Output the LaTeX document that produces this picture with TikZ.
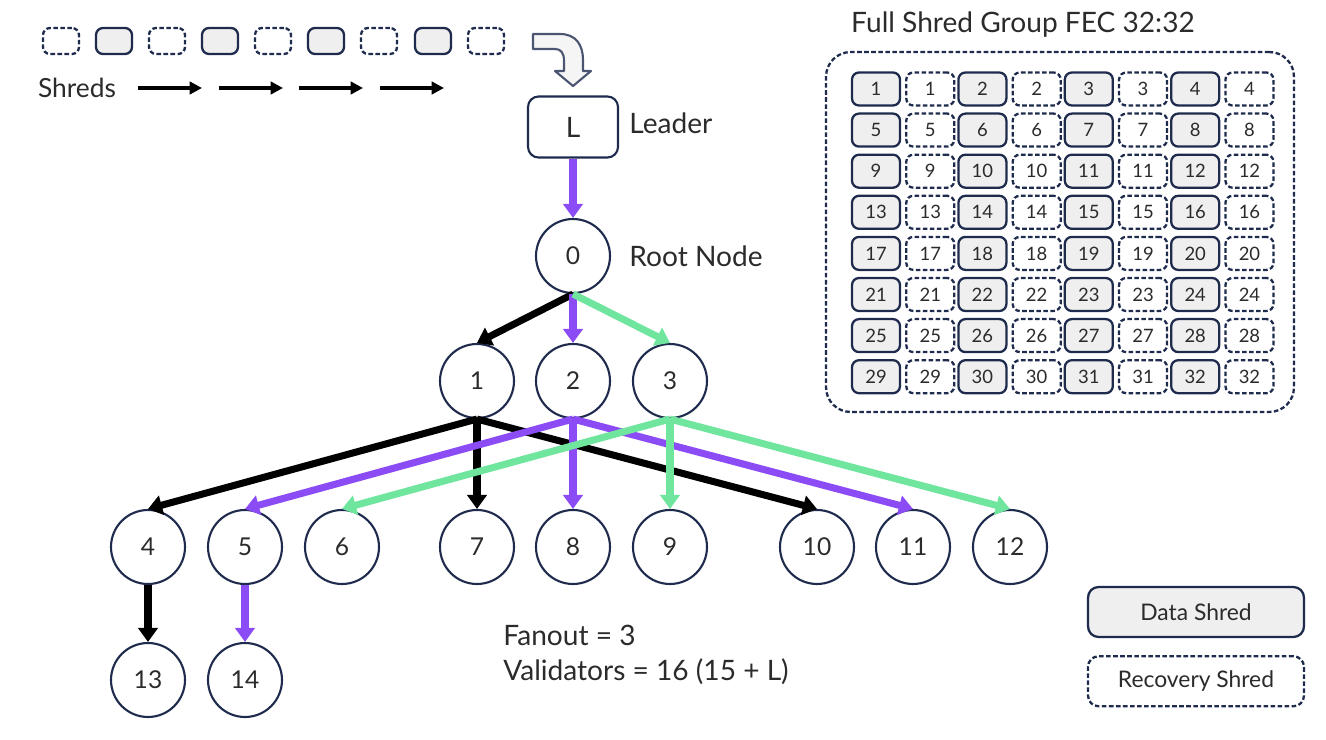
\documentclass[tikz,border=0pt]{standalone}
\usepackage{fontspec}
\setmainfont{Lato}
\usepackage{xcolor}
\definecolor{navy}{HTML}{1E2B4D}
\definecolor{fanpurple}{HTML}{8B4CF6}
\definecolor{fangreen}{HTML}{6FE59E}
\definecolor{shredfill}{HTML}{EFEFEF}
\definecolor{ink}{HTML}{2B2B2B}
\usepackage{tikz}
\usetikzlibrary{arrows.meta, positioning}

\begin{document}
\begin{tikzpicture}[x=0.02cm, y=-0.02cm, >=Stealth,
  vnode/.style={circle, draw=navy, line width=1.2pt, minimum size=1.48cm,
    inner sep=0pt, font=\fontsize{14}{16}\selectfont, text=ink},
  datashred/.style={draw=navy, fill=shredfill, rounded corners=4pt, line width=1.3pt,
    inner sep=0pt, text=ink},
  recshred/.style={draw=navy, dash pattern=on 2.6pt off 1.4pt, rounded corners=4pt,
    line width=1.3pt, inner sep=0pt, text=ink},
  cell/.style={minimum width=0.96cm, minimum height=0.66cm, font=\fontsize{10.5}{12}\selectfont},
  topshred/.style={minimum width=0.72cm, minimum height=0.52cm},
  lbl/.style={font=\fontsize{16}{20}\selectfont, text=ink, inner sep=0pt},
  fanedge/.style={-{Triangle[length=8pt,width=11pt]}, line width=4pt}]

  \useasboundingbox (0,0) rectangle (1326,740);

  % incoming shreds
  \foreach \i/\x in {1/61,3/167,5/273,7/379,9/486}
    \node[recshred, topshred] (s\i) at (\x,41) {};
  \foreach \i/\x in {2/114,4/220,6/326,8/433}
    \node[datashred, topshred] (s\i) at (\x,41) {};
  \node[lbl, font=\fontsize{15}{18}\selectfont] (shreds) at (77,88) {Shreds};
  \foreach \x in {138,219,299,380}
    \draw[-{Triangle[length=7pt,width=7pt]}, line width=2.2pt] (\x,88) -- ++(64,0);

  % bent hollow arrow into the leader
  \draw[navy!80, fill=shredfill!60, line width=1.2pt, line join=round]
    (533,34) -- (560,34) .. controls (576,34) and (583,45) .. (583,60) -- (583,71)
    -- (591,71) -- (573,86) -- (555,71) -- (564,71) -- (564,61)
    .. controls (564,53) and (561,49) .. (555,49) -- (533,49) -- cycle;

  \node[draw=navy, rounded corners=6pt, line width=1.2pt, minimum width=1.8cm,
        minimum height=1.22cm, font=\fontsize{16}{20}\selectfont, text=ink] (L) at (573,127) {L};
  \node[lbl, right=0.2cm of L, yshift=2pt] (leader) {Leader};

  % turbine tree
  \node[vnode] (n0) at (573,256) {0};
  \node[lbl, right=0.36cm of n0] (root) {Root Node};
  \foreach \i/\x in {1/477,2/573,3/670}
    \node[vnode] (n\i) at (\x,381) {\i};
  \foreach \i/\x in {4/148,5/245,6/342,7/477,8/573,9/670,10/817,11/913,12/1010}
    \node[vnode] (n\i) at (\x,547) {\i};
  \foreach \i/\x in {13/148,14/245}
    \node[vnode] (n\i) at (\x,680) {\i};

  \draw[fanedge, fanpurple] (L.south) -- (n0.north);
  \foreach \p/\c/\col in {0/1/black, 1/4/black, 1/7/black, 1/10/black, 4/13/black,
      0/2/fanpurple, 2/5/fanpurple, 2/8/fanpurple, 2/11/fanpurple, 5/14/fanpurple,
      0/3/fangreen, 3/6/fangreen, 3/9/fangreen, 3/12/fangreen}
    \draw[fanedge, \col] (n\p.south) -- (n\c.north);

  \node[lbl, anchor=west, align=left] (stats) at (503,655)
    {Fanout = 3\\Validators = 16 (15 + L)};

  % FEC set
  \node[recshred, rounded corners=14pt, minimum width=9.36cm, minimum height=7.2cm]
    (group) at (1060,232) {};
  \node[lbl] (grouptitle) at (1023,25) {Full Shred Group FEC 32:32};
  \foreach \r in {0,...,7}
    \foreach \j in {0,...,3} {
      \pgfmathtruncatemacro{\n}{4*\r+\j+1}
      \pgfmathsetmacro{\xd}{876+106.4*\j}
      \pgfmathsetmacro{\yy}{89+41.1*\r}
      \node[datashred, cell] (d\n) at (\xd,\yy) {\n};
      \node[recshred, cell, right=0.08cm of d\n] (r\n) {\n};
    }

  % legend
  \node[datashred, rounded corners=6pt, minimum width=4.32cm, minimum height=1cm,
        font=\fontsize{13}{16}\selectfont] (legdata) at (1196,612) {Data Shred};
  \node[recshred, rounded corners=6pt, minimum width=4.32cm, minimum height=1cm,
        font=\fontsize{13}{16}\selectfont, below=0.34cm of legdata] (legrec) {Recovery Shred};

\end{tikzpicture}
\end{document}
